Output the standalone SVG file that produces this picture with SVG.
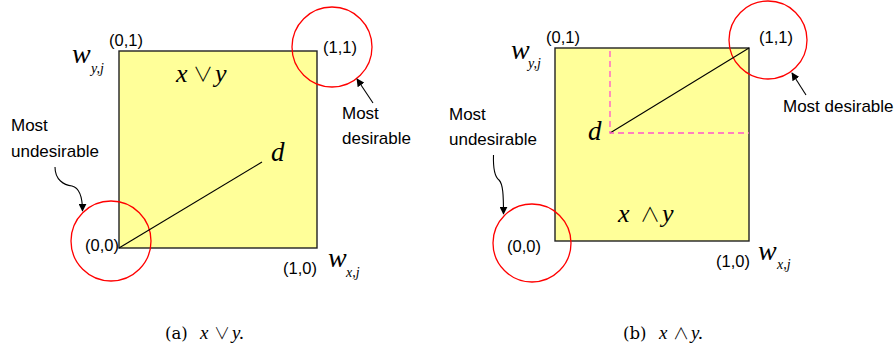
<svg xmlns="http://www.w3.org/2000/svg" width="894" height="351" viewBox="0 0 894 351">
<defs>
<style>
.bg{fill:#ffffff}
.sq{fill:#ffff99;stroke:#222;stroke-width:1.4}
.ring{fill:none;stroke:#ff0000;stroke-width:1.3}
.ln{fill:none;stroke:#000;stroke-width:1.1}
.arr{fill:none;stroke:#000;stroke-width:1.1;marker-end:url(#ah)}
.dash{fill:none;stroke:#ff55cc;stroke-width:1.3;stroke-dasharray:6,4}
.lbl{font-family:"Liberation Sans",Arial,sans-serif;font-size:16.5px;fill:#000}
.note{font-family:"Liberation Sans",Arial,sans-serif;font-size:17px;fill:#000}
.math{font-family:"Liberation Serif","DejaVu Serif",serif;font-style:italic;fill:#000}
.op{font-family:"Noto Sans CJK JP","DejaVu Sans",sans-serif;font-weight:300;font-style:normal;fill:#000}
.cap{font-family:"DejaVu Serif","Liberation Serif",serif;font-size:16.5px;fill:#000}
.capm{font-family:"Liberation Serif","DejaVu Serif",serif;font-size:19px;font-style:italic;fill:#000}
</style>
<marker id="ah" viewBox="0 0 10 10" refX="9" refY="5" markerWidth="8" markerHeight="8" markerUnits="userSpaceOnUse" orient="auto">
<path d="M0,0 L10,5 L0,10 Z" fill="#000"/>
</marker>
</defs>
<rect class="bg" x="0" y="0" width="894" height="351"/>

<g id="panel-a">
<g id="a-square"><rect class="sq" x="119" y="51" width="198" height="197"/></g>
<g id="a-op"><text class="math" font-size="26" x="176" y="82">x</text><text class="op" font-size="20" x="193" y="82">∨</text><text class="math" font-size="26" x="215" y="82">y</text></g>
<g id="a-d"><text class="math" font-size="27" x="271" y="161">d</text></g>
<g id="a-c01"><text class="lbl" x="109" y="46">(0,1)</text></g>
<g id="a-c11"><text class="lbl" x="323" y="53">(1,1)</text></g>
<g id="a-c00"><text class="lbl" x="85" y="251">(0,0)</text></g>
<g id="a-c10"><text class="lbl" x="283" y="274">(1,0)</text></g>
<g id="a-wy"><text class="math" font-size="28" x="72" y="63">w</text><text class="math" font-size="14" x="91" y="73">y,j</text></g>
<g id="a-wx"><text class="math" font-size="28" x="328" y="267">w</text><text class="math" font-size="14" x="346" y="277">x,j</text></g>
<g id="a-best-ring"><circle class="ring" cx="332" cy="47" r="40"/></g>
<g id="a-worst-ring"><circle class="ring" cx="111" cy="241" r="40"/></g>
<g id="a-best-note"><text class="note" x="342" y="119">Most</text><text class="note" x="342" y="144">desirable</text></g>
<g id="a-worst-note"><text class="note" x="11" y="131">Most</text><text class="note" x="11" y="157">undesirable</text></g>
</g>

<g id="panel-b">
<g id="b-square"><rect class="sq" x="555" y="48" width="194" height="193"/></g>
<g id="b-op"><text class="math" font-size="26" x="618" y="222">x</text><text class="op" font-size="20" x="640" y="222">∧</text><text class="math" font-size="26" x="662" y="222">y</text></g>
<g id="b-d"><text class="math" font-size="27" x="588" y="140">d</text></g>
<g id="b-c01"><text class="lbl" x="546" y="43">(0,1)</text></g>
<g id="b-c11"><text class="lbl" x="759" y="43">(1,1)</text></g>
<g id="b-c00"><text class="lbl" x="507" y="252">(0,0)</text></g>
<g id="b-c10"><text class="lbl" x="716" y="267">(1,0)</text></g>
<g id="b-wy"><text class="math" font-size="28" x="511" y="59">w</text><text class="math" font-size="14" x="528" y="68">y,j</text></g>
<g id="b-wx"><text class="math" font-size="28" x="758" y="260">w</text><text class="math" font-size="14" x="777" y="269">x,j</text></g>
<g id="b-best-ring"><circle class="ring" cx="768" cy="40" r="39"/></g>
<g id="b-worst-ring"><circle class="ring" cx="532" cy="243" r="39"/></g>
<g id="b-best-note"><text class="note" x="783" y="112">Most desirable</text></g>
<g id="b-worst-note"><text class="note" x="449" y="120">Most</text><text class="note" x="449" y="145">undesirable</text></g>
</g>

<g id="connectors">
<line class="ln" x1="119" y1="248" x2="262" y2="162"/>
<line class="arr" x1="373" y1="103" x2="357" y2="79"/>
<path class="arr" d="M55,167 C55,180 64,185 72,186 C80,188 82.5,198 82.5,211"/>
<line class="ln" x1="610" y1="133" x2="749" y2="48"/>
<path class="dash" d="M610,51 L610,133 L749,133"/>
<line class="arr" x1="806" y1="95" x2="792" y2="73"/>
<path class="arr" d="M493.5,155 C493,170 495,177 499,180 C503,184 503.5,195 503.5,214"/>
</g>

<g id="captions">
<text class="cap" x="165" y="339">(a)</text><text class="capm" x="200" y="339">x</text><text class="op" font-size="16" x="214" y="339">∨</text><text class="capm" x="232" y="339">y.</text>
<text class="cap" x="623" y="339">(b)</text><text class="capm" x="659" y="339">x</text><text class="op" font-size="16" x="673" y="339">∧</text><text class="capm" x="691" y="339">y.</text>
</g>
</svg>
